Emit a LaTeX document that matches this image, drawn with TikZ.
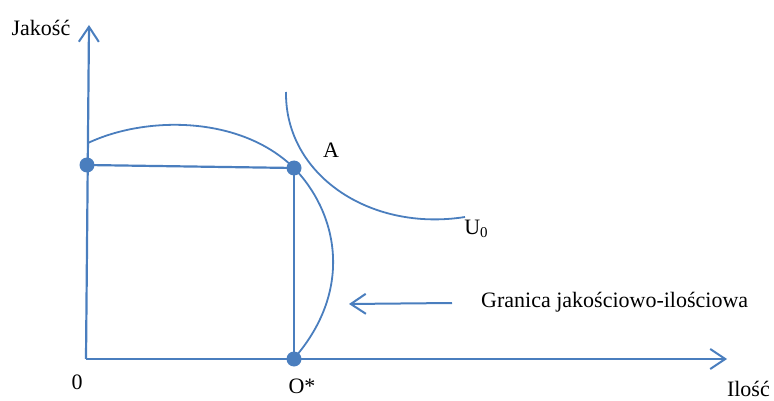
\documentclass[tikz,border=0pt]{standalone}
\usepackage{fontspec}
\setmainfont{Liberation Serif}
\usetikzlibrary{arrows.meta}
\definecolor{lineblue}{RGB}{74,126,190}
\begin{document}
\begin{tikzpicture}[x=1pt,y=-1pt,
  axis/.style={draw=lineblue,line width=2.2pt,-{Straight Barb[length=15pt,width=20pt,line width=2pt]}},
  curve/.style={draw=lineblue,line width=1.8pt},
  seg/.style={draw=lineblue,line width=2.2pt},
  dot/.style={circle,fill=lineblue,minimum size=15pt,inner sep=0pt},
  lbl/.style={inner sep=0pt,font=\fontsize{22}{26}\selectfont}]
\useasboundingbox (0,0) rectangle (774,401);
\coordinate (o) at (86,359);
\coordinate (ytop) at (89,25);
\coordinate (xend) at (727,359);
\coordinate (fstart) at (88,143);
\coordinate (fend) at (297,355);
\coordinate (ustart) at (286,92);
\coordinate (uend) at (465,217);
\coordinate (arrs) at (452,303);
\coordinate (arre) at (349,304);
\node[dot] (q) at (87,165) {};
\node[dot] (a) at (294,168) {};
\node[dot] (os) at (294,359) {};
% axes
\draw[axis] (o) -- (ytop);
\draw[axis] (o) -- (xend);
% rectangle
\draw[seg] (q.center) -- (a.center);
\draw[seg] (a.center) -- (os.center);
% frontier
\draw[curve] (fstart) .. controls (145,116) and (240,115) .. (a.center)
  .. controls (335,210) and (355,285) .. (fend);
% indifference curve
\draw[curve] (ustart) .. controls (285,175) and (370,232) .. (uend);
% pointer arrow
\draw[axis,line width=2pt] (arrs) -- (arre);
% labels
\node[lbl] (ly) at (41,28) {Jakość};
\node[lbl] (la) at (331,150) {A};
\node[lbl] (lu) at (476,229) {U\raisebox{-0.35ex}{\fontsize{15}{15}\selectfont 0}};
\node[lbl,anchor=west] (lg) at (481,302) {Granica jakościowo-ilościowa};
\node[lbl] (l0) at (77,382) {0};
\node[lbl] (lo) at (302,386) {O*};
\node[lbl,anchor=east] (lx) at (770,389) {Ilość};
\end{tikzpicture}
\end{document}
